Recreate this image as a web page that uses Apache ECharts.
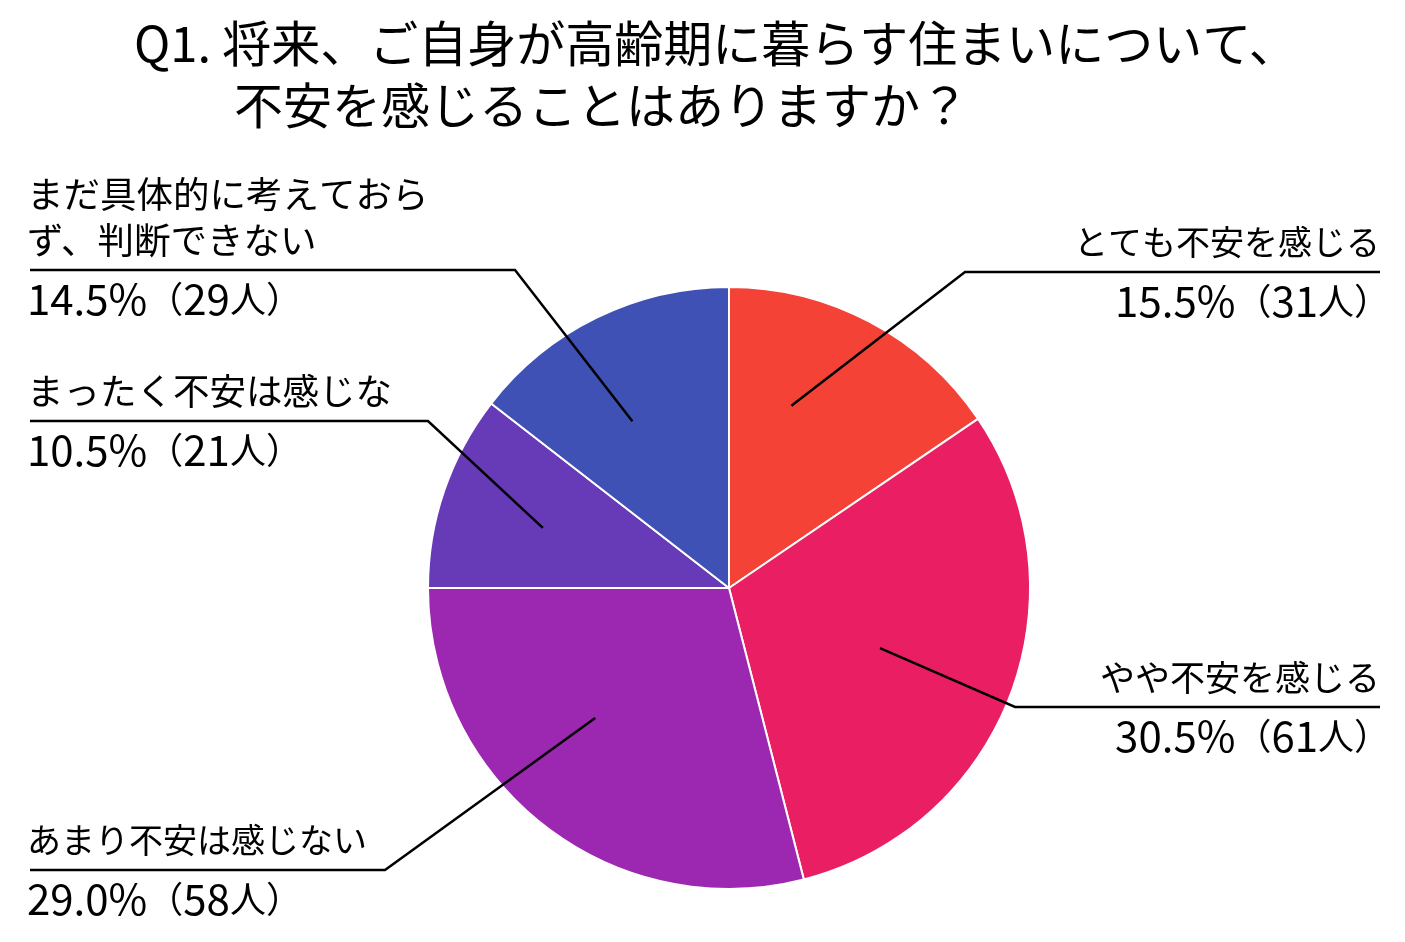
<!DOCTYPE html>
<html>
<head>
<meta charset="utf-8">
<script src="https://cdn.jsdelivr.net/npm/echarts@6/dist/echarts.min.js"></script>
<style>
html,body{margin:0;padding:0;background:#fff;}
#main{width:1405px;height:942px;}
</style>
</head>
<body>
<div id="main"></div>
<script>
// ---- data ----
var titleLine1 = 'Q1. 将来、ご自身が高齢期に暮らす住まいについて、';
var titleLine2 = '不安を感じることはありますか？';
var categories = [
  'とても不安を感じる',
  'やや不安を感じる',
  'あまり不安は感じない',
  'まったく不安は感じな',
  'まだ具体的に考えておら\nず、判断できない'
];
var counts = [31, 61, 58, 21, 29];
var colors = ['#F44336', '#E91E63', '#9C27B0', '#673AB7', '#3F51B5'];

// ---- label layout / style (positions and sizes only) ----
// startR: leader start as fraction of radius; startDA: angle offset (deg) from slice mid angle
var labelPos = [
  {side: 'right', lineY: 272, elbowX: 965,  nameSize: 34,   startR: 0.64, startDA: 9},
  {side: 'right', lineY: 707, elbowX: 1015, nameSize: 35,   startR: 0.54, startDA: -1},
  {side: 'left',  lineY: 870, elbowX: 385,  nameSize: 34,   startR: 0.62, startDA: -8},
  {side: 'left',  lineY: 421, elbowX: 428,  nameSize: 36.5, startR: 0.65, startDA: 1},
  {side: 'left',  lineY: 270, elbowX: 515,  nameSize: 36.5, startR: 0.64, startDA: 4}
];
var CX = 729, CY = 588, R = 301;
var RIGHT_EDGE = 1380, LEFT_EDGE = 30, LEFT_TEXT = 27, RIGHT_TEXT = 1390;

var total = counts.reduce(function (a, b) { return a + b; }, 0);

var chart = echarts.init(document.getElementById('main'));
var font = '"Noto Sans CJK JP", "Noto Sans", sans-serif';

var seriesData = categories.map(function (c, i) {
  var cfg = labelPos[i];
  var padR = cfg.side === 'right' ? RIGHT_TEXT - RIGHT_EDGE : 0;
  return {
    name: c, value: counts[i], itemStyle: {color: colors[i]},
    label: {rich: {n: {fontSize: cfg.nameSize, lineHeight: 46, color: '#000', fontFamily: font,
                       padding: [0, padR, 0, 0]}}}
  };
});

// leader lines: start inside each slice near its mid angle (from the data), then elbow and underline
var leaders = [];
var acc = 0;
counts.forEach(function (v, i) {
  var cfg = labelPos[i];
  var mid = (90 - (acc + v / 2) / total * 360 + cfg.startDA) * Math.PI / 180;
  acc += v;
  var inner = [CX + cfg.startR * R * Math.cos(mid), CY - cfg.startR * R * Math.sin(mid)];
  var edge = cfg.side === 'right' ? RIGHT_EDGE : LEFT_EDGE;
  leaders.push({
    type: 'polyline', z: 100, silent: true,
    shape: {points: [inner, [cfg.elbowX, cfg.lineY], [edge, cfg.lineY]]},
    style: {stroke: '#000', lineWidth: 2.5, fill: 'none'}
  });
});

chart.setOption({
  backgroundColor: '#fff',
  animation: false,
  title: [
    {text: titleLine1, left: 134, top: 19, padding: 0,
     textStyle: {fontSize: 49, fontWeight: 'normal', color: '#000', fontFamily: font}},
    {text: titleLine2, left: 234, top: 81, padding: 0,
     textStyle: {fontSize: 49, fontWeight: 'normal', color: '#000', fontFamily: font}}
  ],
  graphic: leaders,
  series: [{
    type: 'pie',
    center: [CX, CY],
    radius: R,
    startAngle: 90,
    clockwise: true,
    avoidLabelOverlap: false,
    emphasis: {disabled: true},
    itemStyle: {borderColor: '#fff', borderWidth: 2},
    label: {
      show: true,
      position: 'outside',
      color: '#000',
      fontFamily: font,
      fontSize: 34,
      formatter: function (p) {
        var lines = p.name.split('\n');
        var pct = (p.value / total * 100).toFixed(1) + '%';
        var s = lines.map(function (l) { return '{n|' + l + '}'; }).join('\n');
        s += '\n{s| }\n{v|' + pct + '}{p|（}{v|' + p.value + '}{p|人）}';
        for (var k = 1; k < lines.length; k++) s += '\n{n| }';
        return s;
      },
      rich: {
        n: {fontSize: 34, lineHeight: 46, color: '#000', fontFamily: font},
        s: {fontSize: 10, lineHeight: 13},
        v: {fontSize: 42, lineHeight: 46, color: '#000', fontFamily: font},
        p: {fontSize: 36, lineHeight: 46, color: '#000', fontFamily: font}
      }
    },
    labelLine: {show: false},
    labelLayout: function (params) {
      var cfg = labelPos[params.dataIndex];
      var isRight = cfg.side === 'right';
      return {
        x: isRight ? RIGHT_TEXT : LEFT_TEXT,
        y: cfg.lineY,
        align: isRight ? 'right' : 'left',
        verticalAlign: 'middle'
      };
    },
    data: seriesData
  }]
});
</script>
</body>
</html>
